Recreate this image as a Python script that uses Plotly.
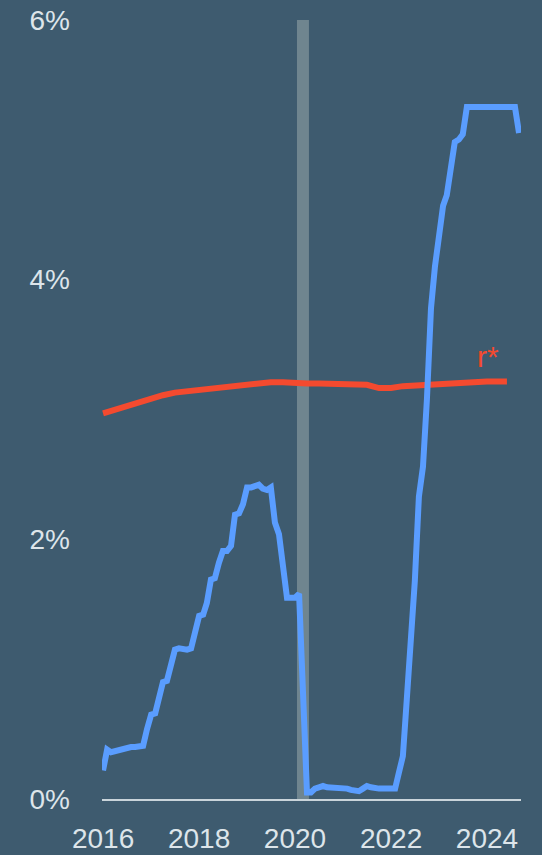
import pandas as pd
import plotly.graph_objects as go

# Effective federal funds rate, monthly averages (%), Jan 2016 - Sep 2024
months = pd.date_range("2016-01-01", "2024-09-01", freq="MS")
fed_funds = [
    0.22, 0.38, 0.36, 0.37, 0.37, 0.38, 0.39, 0.40, 0.40, 0.40, 0.41, 0.54,
    0.65, 0.66, 0.79, 0.90, 0.91, 1.04, 1.15, 1.16, 1.15, 1.15, 1.16, 1.30,
    1.41, 1.42, 1.51, 1.69, 1.70, 1.82, 1.91, 1.91, 1.95, 2.19, 2.20, 2.27,
    2.40, 2.40, 2.41, 2.42, 2.39, 2.38, 2.40, 2.13, 2.04, 1.83, 1.55, 1.55,
    1.55, 1.58, 0.85, 0.05, 0.05, 0.08, 0.09, 0.10, 0.09, 0.09, 0.09, 0.09,
    0.09, 0.08, 0.07, 0.07, 0.06, 0.08, 0.10, 0.09, 0.08, 0.08, 0.08, 0.08,
    0.08, 0.08, 0.20, 0.33, 0.77, 1.21, 1.68, 2.33, 2.56, 3.08, 3.78, 4.10,
    4.33, 4.57, 4.65, 4.83, 5.06, 5.08, 5.12, 5.33, 5.33, 5.33, 5.33, 5.33,
    5.33, 5.33, 5.33, 5.33, 5.33, 5.33, 5.33, 5.33, 5.13,
]

# Neutral real rate estimate r* (%), quarterly, Q1 2016 - Q2 2024
rstar_dates = list(pd.date_range("2016-01-01", "2024-04-01", freq="QS")) + [pd.Timestamp("2024-06-01")]
rstar = [
    2.97, 3.00, 3.03, 3.05,
    3.08, 3.11, 3.13, 3.14,
    3.16, 3.17, 3.18, 3.19,
    3.20, 3.21, 3.21, 3.21,
    3.20, 3.20, 3.20, 3.20,
    3.20, 3.19, 3.19, 3.165,
    3.165, 3.18, 3.185, 3.19,
    3.205, 3.21, 3.21, 3.215,
    3.215, 3.215, 3.215,
]

# 2020 recession window
recession_start = "2020-01-16"
recession_end = "2020-04-16"

year_ticks = ["2016-01-01", "2018-01-01", "2020-01-01", "2022-01-01", "2024-01-01"]
year_labels = ["2016", "2018", "2020", "2022", "2024"]
pct_ticks = [0, 2, 4, 6]
pct_labels = ["0%", "2%", "4%", "6%"]

BG = "#3e5b6f"
TEXT = "#dde5ea"
BLUE = "#5a9dff"
RED = "#f44a2f"
FONT = "Liberation Sans, Arial, sans-serif"

fig = go.Figure()

fig.add_trace(go.Scatter(
    x=rstar_dates, y=rstar, mode="lines",
    line=dict(color=RED, width=6), hoverinfo="skip", showlegend=False,
))
fig.add_trace(go.Scatter(
    x=months, y=fed_funds, mode="lines",
    line=dict(color=BLUE, width=6), hoverinfo="skip", showlegend=False,
))

fig.add_shape(
    type="rect", xref="x", yref="y",
    x0=recession_start, x1=recession_end, y0=0, y1=6,
    fillcolor="#6f858f", line_width=0, layer="below",
)

fig.add_annotation(
    x="2024-01-05", y=3.41, text="r*", showarrow=False,
    font=dict(color=RED, size=30, family=FONT),
    xanchor="center", yanchor="middle",
)

fig.update_layout(
    width=542, height=855,
    margin=dict(l=102, r=21, t=20, b=56),
    paper_bgcolor=BG, plot_bgcolor=BG,
    font=dict(family=FONT, color=TEXT, size=28),
    showlegend=False,
)

fig.update_xaxes(
    type="date", range=["2015-12-24", "2024-09-16"],
    tickmode="array", tickvals=year_ticks, ticktext=year_labels,
    showgrid=False, zeroline=False,
    showline=True, linecolor="#c9d4da", linewidth=2,
    ticks="", ticklabelstandoff=13, automargin=False,
    tickfont=dict(size=28, color=TEXT, family=FONT),
)
fig.update_yaxes(
    range=[0, 6],
    tickmode="array", tickvals=pct_ticks, ticktext=pct_labels,
    showgrid=False, zeroline=False, showline=False,
    ticks="", ticklabelstandoff=31, automargin=False,
    tickfont=dict(size=28, color=TEXT, family=FONT),
)

fig.write_html("out.html")
